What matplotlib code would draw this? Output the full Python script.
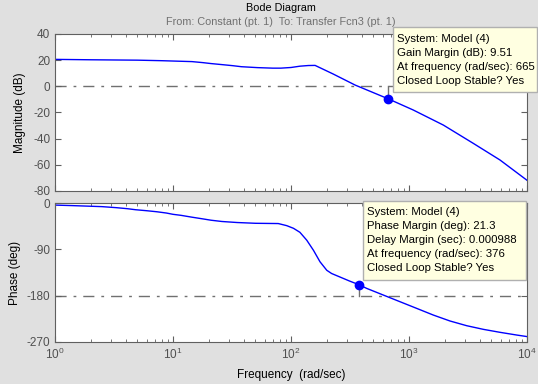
import numpy as np
import matplotlib
matplotlib.use("Agg")
import matplotlib.pyplot as plt
from matplotlib.patches import Rectangle

plt.rcParams['font.family'] = ['Liberation Sans', 'DejaVu Sans']
plt.rcParams['font.size'] = 8
plt.rcParams['axes.unicode_minus'] = False

# magnitude curve (rad/s, dB)
mag_w = [1, 2, 5, 8, 14.5, 18, 21, 26, 32, 38, 52, 70, 82, 100, 119, 140, 160,
         228, 349, 665, 1087, 1954, 3508, 5903, 10000]
mag_db = [20.6, 20.3, 20.0, 19.6, 18.9, 18.1, 17.4, 16.6, 15.8, 15.0, 14.3, 13.9,
          13.9, 14.4, 15.4, 15.9, 16.0, 9.4, 1.0, -9.51, -18.1, -29.6, -43.6,
          -56.3, -71.8]

# phase curve (rad/s, deg)
ph_w = [1, 1.4, 2.5, 3.3, 4.1, 4.8, 6.0, 7.3, 8.8, 10, 11.7, 14.4, 18, 21, 26, 35,
        50, 78, 92, 105, 119, 136, 155, 176, 201, 221, 260, 316, 376, 438, 606,
        839, 1162, 1606, 2225, 3083, 4266, 5903, 8180, 10000]
ph_deg = [-3.5, -4.5, -6.5, -8.5, -10.5, -12.5, -14.5, -16.5, -19, -21.5, -23.5,
          -27, -30.5, -33, -35.5, -37.5, -39, -39.5, -43.6, -48.8, -56.6, -72, -91.7,
          -114, -130.7, -137, -143.8, -152, -158.7, -166, -179, -192, -205, -218,
          -229.6, -238.8, -245.9, -251.7, -257, -260]

gm_w, gm_db = 665, -9.51
pm_w, pm_deg = 376, -158.7

gm_text = ["System: Model (4)", "Gain Margin (dB): 9.51",
           "At frequency (rad/sec): 665", "Closed Loop Stable? Yes"]
pm_text = ["System: Model (4)", "Phase Margin (deg): 21.3",
           "Delay Margin (sec): 0.000988", "At frequency (rad/sec): 376",
           "Closed Loop Stable? Yes"]

W, H = 538, 384
bg = '#e0e0e0'
spine = '#606060'
tick_col = '#505050'

fig = plt.figure(figsize=(W / 100, H / 100), dpi=100, facecolor=bg)
ax1 = fig.add_axes([55 / W, 1 - 191 / H, 472 / W, 157 / H])
ax2 = fig.add_axes([55 / W, 1 - 341.7 / H, 472 / W, 138.4 / H])

for ax in (ax1, ax2):
    ax.set_xscale('log')
    ax.set_xlim(1, 1e4)
    ax.tick_params(which='both', direction='in', top=True, right=True,
                   colors=spine, labelcolor=tick_col, labelsize=8.5)
    ax.tick_params(which='major', length=4.5)
    ax.tick_params(which='minor', length=2.5)
    for s in ax.spines.values():
        s.set_color(spine)

# magnitude
ax1.plot(mag_w, mag_db, color='#0000ff', lw=1)
ax1.axhline(0, color='#707070', lw=1, ls=(0, (8, 5, 2, 5)), zorder=1)
ax1.plot([gm_w, gm_w], [gm_db, 0], color='#707070', lw=1)
ax1.plot(gm_w, gm_db, 'o', color='#0000ff', ms=6)
ax1.set_ylim(-80, 40)
ax1.set_yticks([-80, -60, -40, -20, 0, 20, 40])
ax1.tick_params(axis='x', labelbottom=False)
ax1.set_ylabel('Magnitude (dB)', fontsize=8.5)
ax1.yaxis.set_label_coords(-0.062, 0.5)

# phase
ax2.plot(ph_w, ph_deg, color='#0000ff', lw=1)
ax2.axhline(-180, color='#707070', lw=1, ls=(0, (8, 5, 2, 5)), zorder=1)
ax2.plot([pm_w, pm_w], [pm_deg, -180], color='#707070', lw=1)
ax2.plot(pm_w, pm_deg, 'o', color='#0000ff', ms=6)
ax2.set_ylim(-270, 0)
ax2.set_yticks([-270, -180, -90, 0])
ax2.set_ylabel('Phase (deg)', fontsize=8.5)
ax2.yaxis.set_label_coords(-0.072, 0.5)
ax2.set_xlabel('Frequency  (rad/sec)', fontsize=8.5, labelpad=5)

fig.text(281 / W, 1 - 8 / H, 'Bode Diagram', ha='center', va='center', fontsize=7.8)
fig.text(281 / W, 1 - 22 / H, 'From: Constant (pt. 1)  To: Transfer Fcn3 (pt. 1)',
         ha='center', va='center', fontsize=7.8, color='#707070')


def tip(x0, y0, x1, y1, lines, y_first):
    r = Rectangle((x0 / W, 1 - y1 / H), (x1 - x0) / W, (y1 - y0) / H,
                  transform=fig.transFigure, facecolor='#ffffe1',
                  edgecolor='#b0b0b0', lw=1, zorder=10)
    fig.patches.append(r)
    for i, s in enumerate(lines):
        fig.text((x0 + 4) / W, 1 - (y_first + i * 13.9) / H, s, ha='left',
                 va='center', fontsize=8.2, zorder=11)


tip(393, 27, 537, 92, gm_text, 39.5)
tip(363, 201, 526, 280, pm_text, 212)

fig.savefig('out.png', dpi=100, facecolor=bg)
